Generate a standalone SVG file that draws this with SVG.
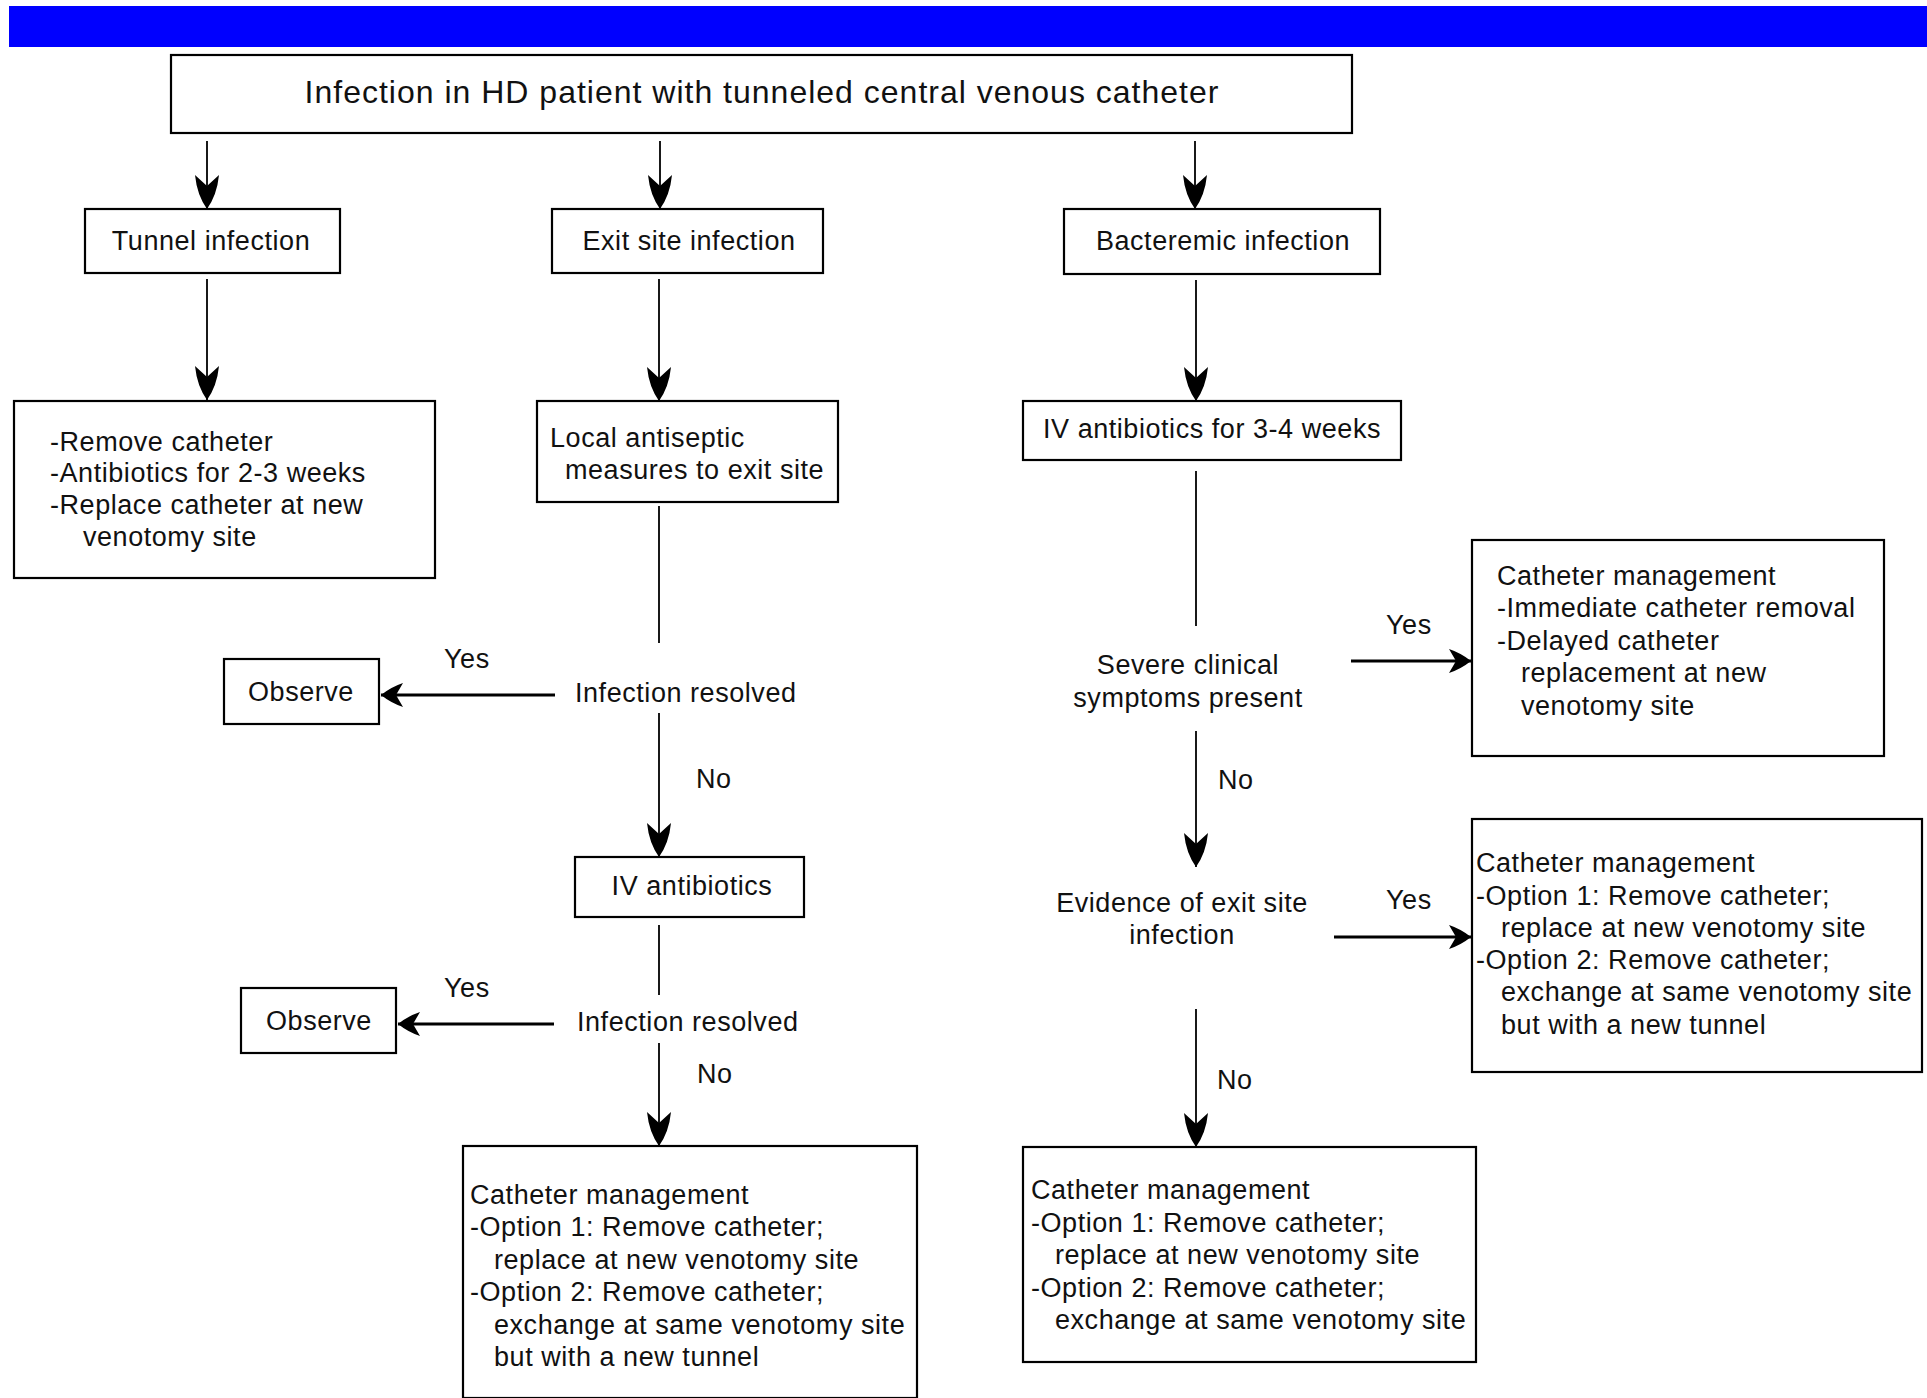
<svg xmlns="http://www.w3.org/2000/svg" width="1927" height="1398" viewBox="0 0 1927 1398">
<style>
.box{fill:#fff;stroke:#000;stroke-width:2.2}
.t{font-family:"Liberation Sans",Arial,Helvetica,sans-serif;font-size:27px;letter-spacing:0.55px;fill:#111}
.c{text-anchor:middle}
.title{font-family:"Liberation Sans",Arial,Helvetica,sans-serif;font-size:32px;letter-spacing:1px;fill:#111;text-anchor:middle}
.ln{stroke:#000;stroke-width:1.8;fill:none}
.hl{stroke:#000;stroke-width:3;fill:none}
</style>
<defs>
<marker id="ahv" viewBox="-36 -14 38 28" refX="0" refY="0" markerWidth="38" markerHeight="28" orient="auto" markerUnits="userSpaceOnUse">
<path d="M0,0 Q-14,-10 -34,-12 L-23,0 L-34,12 Q-14,10 0,0 Z" fill="#000"/>
</marker>
<marker id="ahh" viewBox="-24 -13 26 26" refX="0" refY="0" markerWidth="26" markerHeight="26" orient="auto" markerUnits="userSpaceOnUse">
<path d="M0,0 Q-10,-8 -22,-12 L-15,0 L-22,12 Q-10,8 0,0 Z" fill="#000"/>
</marker>
</defs>
<rect x="0" y="0" width="1927" height="1398" fill="#fff"/>
<rect id="banner" x="9" y="6" width="1918" height="41" fill="#0000FF"/>

<g id="connectors">
<line class="ln" x1="207" y1="141" x2="207" y2="209" marker-end="url(#ahv)"/>
<line class="ln" x1="660" y1="141" x2="660" y2="209" marker-end="url(#ahv)"/>
<line class="ln" x1="1195" y1="141" x2="1195" y2="209" marker-end="url(#ahv)"/>
<line class="ln" x1="207" y1="279" x2="207" y2="400" marker-end="url(#ahv)"/>
<line class="ln" x1="659" y1="279" x2="659" y2="401" marker-end="url(#ahv)"/>
<line class="ln" x1="1196" y1="280" x2="1196" y2="401" marker-end="url(#ahv)"/>
<line class="ln" x1="659" y1="506" x2="659" y2="643"/>
<line class="hl" x1="555" y1="695" x2="381" y2="695" marker-end="url(#ahh)"/>
<line class="ln" x1="659" y1="713" x2="659" y2="857" marker-end="url(#ahv)"/>
<line class="ln" x1="659" y1="925" x2="659" y2="995"/>
<line class="hl" x1="554" y1="1024" x2="398" y2="1024" marker-end="url(#ahh)"/>
<line class="ln" x1="659" y1="1043" x2="659" y2="1146" marker-end="url(#ahv)"/>
<line class="ln" x1="1196" y1="471" x2="1196" y2="626"/>
<line class="hl" x1="1351" y1="661" x2="1471" y2="661" marker-end="url(#ahh)"/>
<line class="ln" x1="1196" y1="731" x2="1196" y2="867" marker-end="url(#ahv)"/>
<line class="hl" x1="1334" y1="937" x2="1471" y2="937" marker-end="url(#ahh)"/>
<line class="ln" x1="1196" y1="1009" x2="1196" y2="1147" marker-end="url(#ahv)"/>
<text class="t" x="444" y="668">Yes</text>
<text class="t" x="696" y="788">No</text>
<text class="t" x="444" y="997">Yes</text>
<text class="t" x="697" y="1083">No</text>
<text class="t" x="1386" y="634">Yes</text>
<text class="t" x="1218" y="789">No</text>
<text class="t" x="1386" y="909">Yes</text>
<text class="t" x="1217" y="1089">No</text>
</g>

<g id="n-top">
<rect class="box" x="171" y="55" width="1181" height="78"/>
<text class="title" x="762" y="103">Infection in HD patient with tunneled central venous catheter</text>
</g>

<g id="n-tunnel">
<rect class="box" x="85" y="209" width="255" height="64"/>
<text class="t c" x="211" y="250">Tunnel infection</text>
</g>

<g id="n-exit">
<rect class="box" x="552" y="209" width="271" height="64"/>
<text class="t c" x="689" y="250">Exit site infection</text>
</g>

<g id="n-bact">
<rect class="box" x="1064" y="209" width="316" height="65"/>
<text class="t c" x="1223" y="250">Bacteremic infection</text>
</g>

<g id="n-tunnel-action">
<rect class="box" x="14" y="401" width="421" height="177"/>
<text class="t" x="50" y="451">-Remove catheter</text>
<text class="t" x="50" y="482">-Antibiotics for 2-3 weeks</text>
<text class="t" x="50" y="514">-Replace catheter at new</text>
<text class="t" x="83" y="546">venotomy site</text>
</g>

<g id="n-local">
<rect class="box" x="537" y="401" width="301" height="101"/>
<text class="t" x="550" y="447">Local antiseptic</text>
<text class="t" x="565" y="479">measures to exit site</text>
</g>

<g id="n-iv34">
<rect class="box" x="1023" y="401" width="378" height="59"/>
<text class="t c" x="1212" y="438">IV antibiotics for 3-4 weeks</text>
</g>

<g id="n-observe1">
<rect class="box" x="224" y="659" width="155" height="65"/>
<text class="t c" x="301" y="701">Observe</text>
</g>

<g id="n-resolved1">
<text class="t" x="575" y="702">Infection resolved</text>
</g>

<g id="n-iv">
<rect class="box" x="575" y="857" width="229" height="60"/>
<text class="t c" x="692" y="895">IV antibiotics</text>
</g>

<g id="n-observe2">
<rect class="box" x="241" y="988" width="155" height="65"/>
<text class="t c" x="319" y="1030">Observe</text>
</g>

<g id="n-resolved2">
<text class="t" x="577" y="1031">Infection resolved</text>
</g>

<g id="n-severe">
<text class="t c" x="1188" y="674">Severe clinical</text>
<text class="t c" x="1188" y="707">symptoms present</text>
</g>

<g id="n-evidence">
<text class="t c" x="1182" y="912">Evidence of exit site</text>
<text class="t c" x="1182" y="944">infection</text>
</g>

<g id="n-cm1">
<rect class="box" x="1472" y="540" width="412" height="216"/>
<text class="t" x="1497" y="585">Catheter management</text>
<text class="t" x="1497" y="617">-Immediate catheter removal</text>
<text class="t" x="1497" y="650">-Delayed catheter</text>
<text class="t" x="1521" y="682">replacement at new</text>
<text class="t" x="1521" y="715">venotomy site</text>
</g>

<g id="n-cm2">
<rect class="box" x="1472" y="819" width="450" height="253"/>
<text class="t" x="1476" y="872">Catheter management</text>
<text class="t" x="1476" y="905">-Option 1: Remove catheter;</text>
<text class="t" x="1501" y="937">replace at new venotomy site</text>
<text class="t" x="1476" y="969">-Option 2: Remove catheter;</text>
<text class="t" x="1501" y="1001">exchange at same venotomy site</text>
<text class="t" x="1501" y="1034">but with a new tunnel</text>
</g>

<g id="n-cm3">
<rect class="box" x="463" y="1146" width="454" height="252"/>
<text class="t" x="470" y="1204">Catheter management</text>
<text class="t" x="470" y="1236">-Option 1: Remove catheter;</text>
<text class="t" x="494" y="1269">replace at new venotomy site</text>
<text class="t" x="470" y="1301">-Option 2: Remove catheter;</text>
<text class="t" x="494" y="1334">exchange at same venotomy site</text>
<text class="t" x="494" y="1366">but with a new tunnel</text>
</g>

<g id="n-cm4">
<rect class="box" x="1023" y="1147" width="453" height="215"/>
<text class="t" x="1031" y="1199">Catheter management</text>
<text class="t" x="1031" y="1232">-Option 1: Remove catheter;</text>
<text class="t" x="1055" y="1264">replace at new venotomy site</text>
<text class="t" x="1031" y="1297">-Option 2: Remove catheter;</text>
<text class="t" x="1055" y="1329">exchange at same venotomy site</text>
</g>
</svg>
